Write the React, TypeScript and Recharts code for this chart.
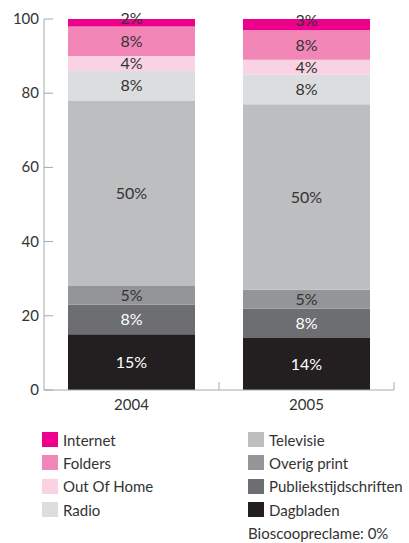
import { BarChart, Bar, XAxis, YAxis, LabelList } from 'recharts';

const years = ['2004', '2005'];

// bottom to top
const dagbladen = [15, 14];
const publiekstijdschriften = [8, 8];
const overigPrint = [5, 5];
const televisie = [50, 50];
const radio = [8, 8];
const outOfHome = [4, 4];
const folders = [8, 8];
const internet = [2, 3];

const yTicks = [0, 20, 40, 60, 80, 100];

const series = [
    { key: 'dagbladen', name: 'Dagbladen', values: dagbladen, color: '#231f20', label: '#ffffff' },
    { key: 'publiek', name: 'Publiekstijdschriften', values: publiekstijdschriften, color: '#6d6e71', label: '#ffffff' },
    { key: 'overig', name: 'Overig print', values: overigPrint, color: '#939598', label: '#333333' },
    { key: 'tv', name: 'Televisie', values: televisie, color: '#bcbec0', label: '#333333' },
    { key: 'radio', name: 'Radio', values: radio, color: '#dcdddf', label: '#333333' },
    { key: 'ooh', name: 'Out Of Home', values: outOfHome, color: '#f9d3e4', label: '#333333' },
    { key: 'folders', name: 'Folders', values: folders, color: '#f287b7', label: '#333333' },
    { key: 'internet', name: 'Internet', values: internet, color: '#ec008c', label: '#333333' },
];

const legendLeft = ['internet', 'folders', 'ooh', 'radio'];
const legendRight = ['tv', 'overig', 'publiek', 'dagbladen'];

const data = years.map((year, i) => {
    const row: Record<string, string | number> = { year };
    series.forEach((s) => {
        row[s.key] = s.values[i];
    });
    return row;
});

const FONT = 'Lato, sans-serif';
const AXIS = '#a7a9ac';

function YTick(props: any) {
    const { x, y, payload } = props;
    return (
        <g>
            <line x1={x + 5} x2={x + 14} y1={y} y2={y} stroke={AXIS} strokeWidth={1} />
            <text x={x} y={y} dy={5} textAnchor="end" fill="#333" fontSize={15} fontFamily={FONT}>
                {payload.value}
            </text>
        </g>
    );
}

// tick marks sit on the category boundaries, pointing up
function XTick(props: any) {
    const { x, y, payload, width, visibleTicksCount } = props;
    const half =
        typeof payload.offset === 'number' && payload.offset > 0
            ? payload.offset
            : width / (2 * (visibleTicksCount || years.length));
    const edge = x + half;
    return (
        <g>
            <line x1={edge} x2={edge} y1={y - 10} y2={y - 18} stroke={AXIS} strokeWidth={1} />
            <text x={x} y={y} dy={10} textAnchor="middle" fill="#333" fontSize={15} fontFamily={FONT}>
                {payload.value}
            </text>
        </g>
    );
}

function LegendItem({ k }: { k: string }) {
    const s = series.find((item) => item.key === k)!;
    return (
        <div style={{ display: 'flex', alignItems: 'center', height: 23.3 }}>
            <span style={{ width: 16, height: 15, background: s.color, marginRight: 5, display: 'inline-block' }} />
            <span>{s.name}</span>
        </div>
    );
}

export default function App() {
    return (
        <div
            style={{
                position: 'absolute',
                top: 0,
                left: 0,
                width: 409,
                height: 543,
                overflow: 'hidden',
                fontFamily: FONT,
                color: '#333',
            }}
        >
            <BarChart
                width={409}
                height={420}
                data={data}
                margin={{ top: 19, right: 15, bottom: 0, left: 0 }}
                barCategoryGap={24}
            >
                <XAxis
                    dataKey="year"
                    height={30}
                    tickSize={0}
                    tickMargin={10}
                    tick={<XTick />}
                    axisLine={{ stroke: AXIS }}
                />
                <YAxis
                    width={44}
                    domain={[0, 100]}
                    ticks={yTicks}
                    tickSize={0}
                    tickMargin={5}
                    tick={<YTick />}
                    axisLine={{ stroke: AXIS }}
                />
                {series.map((s) => (
                    <Bar key={s.key} dataKey={s.key} name={s.name} stackId="a" fill={s.color} isAnimationActive={false}>
                        <LabelList
                            dataKey={s.key}
                            position="center"
                            formatter={(v: any) => `${v}%`}
                            fill={s.label}
                            fontSize={16}
                            fontFamily={FONT}
                            offset={0}
                            dy={s.key === 'internet' ? -4 : 0}
                        />
                    </Bar>
                ))}
            </BarChart>
            <div style={{ position: 'absolute', top: 428, left: 42, fontSize: 15, whiteSpace: 'nowrap' }}>
                {legendLeft.map((k) => (
                    <LegendItem key={k} k={k} />
                ))}
            </div>
            <div style={{ position: 'absolute', top: 428, left: 248, fontSize: 15, whiteSpace: 'nowrap' }}>
                {legendRight.map((k) => (
                    <LegendItem key={k} k={k} />
                ))}
                <div style={{ height: 20, display: 'flex', alignItems: 'center', marginTop: 2 }}>
                    Bioscoopreclame: 0%
                </div>
            </div>
        </div>
    );
}
